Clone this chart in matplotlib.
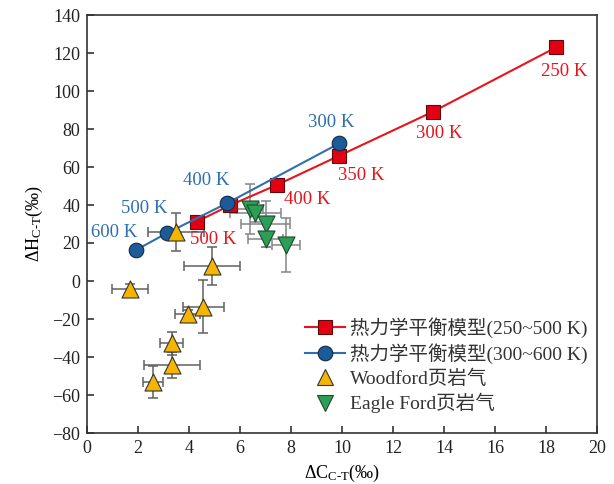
import matplotlib
matplotlib.use("Agg")
import matplotlib.pyplot as plt
from matplotlib.lines import Line2D

plt.rcParams['font.family'] = ['Liberation Serif', 'Noto Sans CJK SC', 'DejaVu Sans']
plt.rcParams['mathtext.fontset'] = 'custom'
plt.rcParams['mathtext.rm'] = 'Liberation Serif'
plt.rcParams['mathtext.it'] = 'Liberation Serif:italic'

# Thermodynamic equilibrium model (250~500 K)
red_temps = ["250 K", "300 K", "350 K", "400 K", "", "500 K"]
red_x = [18.4, 13.55, 9.9, 7.44, 5.6, 4.3]
red_y = [123, 89, 66, 50.5, 39.8, 31.2]

# Thermodynamic equilibrium model (300~600 K)
blue_temps = ["300 K", "400 K", "500 K", "600 K"]
blue_x = [9.9, 5.5, 3.12, 1.92]
blue_y = [72.5, 41, 25.1, 16.3]

# Woodford shale gas
wf_x = [3.49, 4.89, 1.69, 4.56, 3.95, 3.32, 3.32, 2.58]
wf_y = [26, 8, -4.4, -13.5, -17.5, -32.8, -44.2, -53]
wf_xerr = [1.1, 1.1, 0.72, 0.8, 0.5, 0.45, 1.1, 0.4]
wf_yerr = [10, 10, 3, 14, 2, 6, 7, 8.5]

# Eagle Ford shale gas
ef_x = [6.4, 6.6, 7.0, 7.0, 7.8]
ef_y = [38, 36, 30, 22, 19]
ef_xerr = [0.5, 1.0, 0.95, 0.7, 0.55]
ef_yerr = [13, 5, 12, 4, 14]

red_offsets = [(8, -24), (7, -22), (22, -20), (30, -14), (0, 0), (17, -18)]
blue_offsets = [(-8, 21), (-21, 23), (-22, 25), (-22, 18)]

fig = plt.figure(figsize=(6.14, 4.84), dpi=100)
ax = fig.add_axes([87/614, 1-433/484, 510/614, 418/484])

red_c = '#e8141c'
blue_c = '#2f6fae'

ax.errorbar(wf_x, wf_y, xerr=wf_xerr, yerr=wf_yerr, fmt='none', ecolor='#606060',
            elinewidth=1.1, capsize=3.5, capthick=1.1, zorder=2)
ax.errorbar(ef_x, ef_y, xerr=ef_xerr, yerr=ef_yerr, fmt='none', ecolor='#858585',
            elinewidth=1.1, capsize=3.5, capthick=1.1, zorder=2)

ax.plot(red_x, red_y, '-', color=red_c, lw=1.5, marker='s', ms=9.5,
        mfc='#e30013', mec='#5a0a0a', mew=0.8, zorder=3)
ax.plot(blue_x, blue_y, '-', color=blue_c, lw=1.5, marker='o', ms=10.5,
        mfc='#1c5b99', mec='#102a45', mew=0.8, zorder=4)

ax.scatter(wf_x, wf_y, marker='^', s=150, c='#f5b400', edgecolors='#333333',
           linewidths=0.8, zorder=5)
ax.scatter(ef_x, ef_y, marker='v', s=150, c='#2c9e58', edgecolors='#1d4a2c',
           linewidths=0.8, zorder=5)

for t, x, y, off in zip(red_temps, red_x, red_y, red_offsets):
    if t:
        ax.annotate(t, (x, y), xytext=(off[0]*0.72, off[1]*0.72), textcoords='offset points',
                    ha='center', va='center', color=red_c, fontsize=13.5, zorder=6)
for t, x, y, off in zip(blue_temps, blue_x, blue_y, blue_offsets):
    ax.annotate(t, (x, y), xytext=(off[0]*0.72, off[1]*0.72), textcoords='offset points',
                ha='center', va='center', color=blue_c, fontsize=13.5, zorder=6)

ax.set_xlim(0, 20)
ax.set_ylim(-80, 140)
ax.set_xticks(range(0, 21, 2))
ax.set_yticks(range(-80, 141, 20))
ax.tick_params(direction='in', length=5, width=1.1, labelsize=13, colors='#222222', pad=5)
for s in ax.spines.values():
    s.set_linewidth(1.2)
    s.set_color('#333333')

ax.set_xlabel('ΔC$_\\mathrm{C‐T}$(‰)', fontsize=13, labelpad=4)
ax.set_ylabel('ΔH$_\\mathrm{C‐T}$(‰)', fontsize=13, labelpad=5)

handles = [
    Line2D([], [], color=red_c, lw=1.5, marker='s', ms=9.5, mfc='#e30013', mec='#5a0a0a', mew=0.8),
    Line2D([], [], color=blue_c, lw=1.5, marker='o', ms=10.5, mfc='#1c5b99', mec='#102a45', mew=0.8),
    Line2D([], [], ls='none', marker='^', ms=12, mfc='#f5b400', mec='#333333', mew=0.8),
    Line2D([], [], ls='none', marker='v', ms=12, mfc='#2c9e58', mec='#1d4a2c', mew=0.8),
]
labels = ['热力学平衡模型(250~500 K)', '热力学平衡模型(300~600 K)', 'Woodford页岩气', 'Eagle Ford页岩气']
leg = ax.legend(handles, labels, loc='upper left', bbox_to_anchor=((305-87)/510, (433-317)/418),
                frameon=False, fontsize=14, handlelength=2.05, handletextpad=0.26,
                labelspacing=0.28, borderpad=0, borderaxespad=0)
for t in leg.get_texts():
    t.set_color('#333333')

fig.savefig('out.png', dpi=100)
